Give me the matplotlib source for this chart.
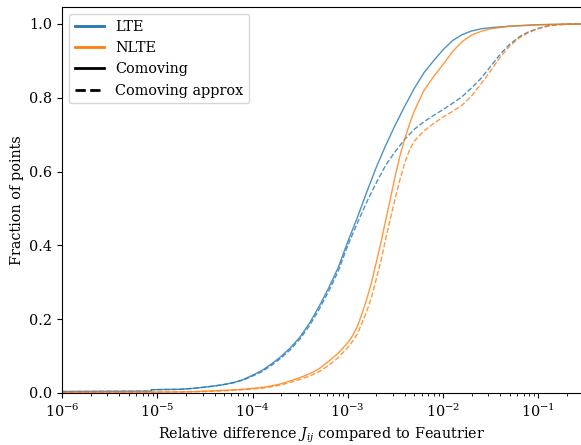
import numpy as np
import matplotlib
matplotlib.use("Agg")
import matplotlib.pyplot as plt
from matplotlib.lines import Line2D

plt.rcParams['font.family'] = 'DejaVu Serif'
plt.rcParams['mathtext.fontset'] = 'dejavuserif'
plt.rcParams['font.size'] = 10.4

# log10 of relative difference, and cumulative fraction of points
lte_x = [-6, -5.07, -5.06, -4.76, -4.6, -4.5, -4.4, -4.3, -4.2, -4.1, -4.0, -3.9,
         -3.8, -3.7, -3.6, -3.5, -3.4, -3.3, -3.2, -3.1, -3.0, -2.9, -2.8, -2.7,
         -2.6, -2.5, -2.4, -2.3, -2.2, -2.1, -2.0, -1.9, -1.8, -1.7, -1.6, -1.5,
         -1.3, -1.0, -0.7, -0.45]
lte_y = [0.004, 0.005, 0.009, 0.010, 0.013, 0.016, 0.019, 0.023, 0.028, 0.036, 0.048, 0.061,
         0.079, 0.099, 0.123, 0.152, 0.190, 0.235, 0.285, 0.340, 0.41, 0.475, 0.545, 0.612,
         0.672, 0.727, 0.778, 0.826, 0.868, 0.90, 0.93, 0.955, 0.971, 0.981, 0.987, 0.990,
         0.994, 0.998, 0.9995, 1.0]

lte_apx_x = [-6, -5.07, -5.06, -4.76, -4.6, -4.5, -4.4, -4.3, -4.2, -4.1, -4.0, -3.9,
             -3.8, -3.7, -3.6, -3.5, -3.4, -3.3, -3.2, -3.1, -3.0, -2.9, -2.8, -2.7,
             -2.6, -2.5, -2.4, -2.3, -2.2, -2.1, -2.0, -1.9, -1.8, -1.7, -1.6, -1.5,
             -1.4, -1.3, -1.2, -1.1, -1.0, -0.9, -0.8, -0.6, -0.45]
lte_apx_y = [0.004, 0.005, 0.009, 0.010, 0.013, 0.016, 0.019, 0.023, 0.028, 0.035, 0.046, 0.058,
             0.075, 0.095, 0.118, 0.147, 0.183, 0.227, 0.276, 0.330, 0.40, 0.46, 0.518, 0.57,
             0.618, 0.655, 0.688, 0.715, 0.735, 0.752, 0.768, 0.785, 0.803, 0.827, 0.853, 0.885,
             0.918, 0.945, 0.965, 0.979, 0.988, 0.995, 0.998, 1.0, 1.0]

nlte_x = [-6, -5.0, -4.7, -4.5, -4.3, -4.1, -3.9, -3.8, -3.7, -3.6, -3.5, -3.4,
          -3.3, -3.2, -3.1, -3.0, -2.95, -2.9, -2.85, -2.8, -2.75, -2.7, -2.65, -2.6,
          -2.55, -2.5, -2.45, -2.4, -2.35, -2.3, -2.2, -2.1, -2.0, -1.9, -1.8, -1.7,
          -1.6, -1.5, -1.3, -1.0, -0.7, -0.45]
nlte_y = [0.002, 0.0025, 0.003, 0.005, 0.007, 0.010, 0.015, 0.019, 0.025, 0.033, 0.042, 0.052,
          0.066, 0.086, 0.108, 0.136, 0.155, 0.18, 0.215, 0.255, 0.30, 0.355, 0.41, 0.47,
          0.53, 0.59, 0.645, 0.69, 0.73, 0.765, 0.82, 0.857, 0.89, 0.925, 0.952, 0.97,
          0.98, 0.987, 0.994, 0.998, 0.9995, 1.0]

nlte_apx_x = [-6, -5.0, -4.7, -4.5, -4.3, -4.1, -3.9, -3.8, -3.7, -3.6, -3.5, -3.4,
              -3.3, -3.2, -3.1, -3.0, -2.95, -2.9, -2.85, -2.8, -2.75, -2.7, -2.65, -2.6,
              -2.55, -2.5, -2.45, -2.4, -2.35, -2.3, -2.2, -2.1, -2.0, -1.9, -1.8, -1.7,
              -1.6, -1.5, -1.4, -1.3, -1.2, -1.1, -1.0, -0.9, -0.8, -0.6, -0.45]
nlte_apx_y = [0.002, 0.0025, 0.003, 0.004, 0.006, 0.009, 0.013, 0.017, 0.022, 0.029, 0.037, 0.046,
              0.058, 0.075, 0.096, 0.123, 0.14, 0.16, 0.19, 0.222, 0.26, 0.31, 0.36, 0.42,
              0.475, 0.53, 0.58, 0.625, 0.66, 0.683, 0.71, 0.73, 0.748, 0.763, 0.78, 0.805,
              0.838, 0.873, 0.91, 0.94, 0.962, 0.977, 0.987, 0.994, 0.998, 1.0, 1.0]

fig = plt.figure(figsize=(5.81, 4.45), dpi=100)
ax = fig.add_axes([62 / 581, 52 / 445, 520 / 581, 386 / 445])

ax.plot(10 ** np.array(lte_x), lte_y, color='C0', lw=1.0, alpha=0.8)
ax.plot(10 ** np.array(lte_apx_x), lte_apx_y, color='C0', lw=1.0, alpha=0.8, ls='--')
ax.plot(10 ** np.array(nlte_x), nlte_y, color='C1', lw=1.0, alpha=0.8)
ax.plot(10 ** np.array(nlte_apx_x), nlte_apx_y, color='C1', lw=1.0, alpha=0.8, ls='--')

ax.set_xscale('log')
ax.set_xlim(1e-6, 10 ** -0.541)
ax.set_ylim(0, 1.046)
ax.set_xlabel(r'Relative difference $J_{ij}$ compared to Feautrier')
ax.set_ylabel('Fraction of points')

handles = [Line2D([], [], color='C0', lw=2),
           Line2D([], [], color='C1', lw=2),
           Line2D([], [], color='k', lw=2),
           Line2D([], [], color='k', lw=2, ls='--')]
ax.legend(handles, ['LTE', 'NLTE', 'Comoving', 'Comoving approx'], loc='upper left')

fig.savefig('out.png', dpi=100)
